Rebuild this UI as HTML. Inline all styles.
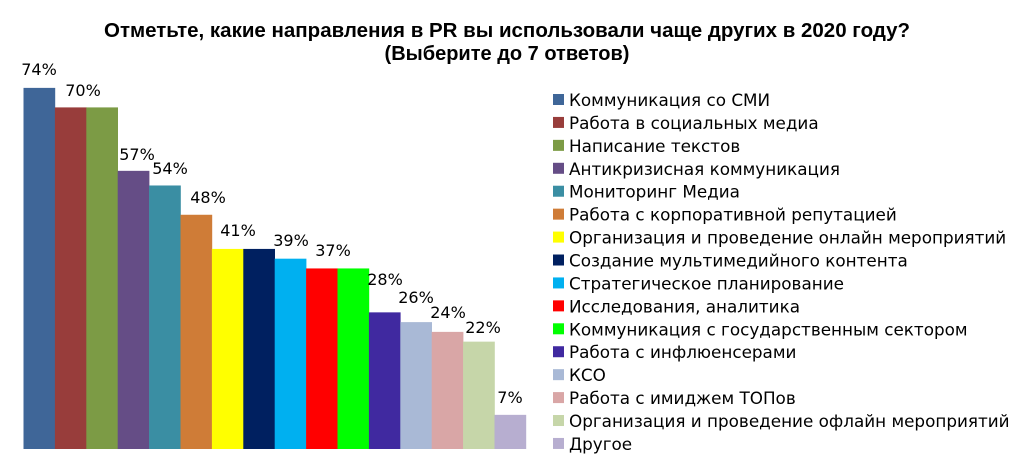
<!DOCTYPE html>
<html><head><meta charset="utf-8"><style>
body{margin:0;background:#fff}
svg{display:block}
</style></head><body>
<svg width="1024" height="471" xmlns="http://www.w3.org/2000/svg">
<rect width="1024" height="471" fill="#fff"/>
<g font-family="Liberation Sans, sans-serif" font-weight="bold" font-size="20" text-anchor="middle" fill="#000">
<text x="507" y="37" textLength="806" lengthAdjust="spacingAndGlyphs">Отметьте, какие направления в PR вы использовали чаще других в 2020 году?</text>
<text x="507" y="60">(Выберите до 7 ответов)</text>
</g>
<g id="bars" font-family="DejaVu Sans, sans-serif" font-size="16" text-anchor="middle" fill="#000"></g>
<g id="leg" font-family="DejaVu Sans, sans-serif" font-size="16.8" fill="#000"></g>
<script>
var d=[[74,"#3f6698","Коммуникация со СМИ"],[70,"#983d3b","Работа в социальных медиа"],[70,"#7c9b45","Написание текстов"],[57,"#654d86","Антикризисная коммуникация"],[54,"#3a8ea3","Мониторинг Медиа"],[48,"#cf7c37","Работа с корпоративной репутацией"],[41,"#ffff00","Организация и проведение онлайн мероприятий"],[41,"#002060","Создание мультимедийного контента"],[39,"#00b0f0","Стратегическое планирование"],[37,"#ff0000","Исследования, аналитика"],[37,"#00ff00","Коммуникация с государственным сектором"],[28,"#4029a0","Работа с инфлюенсерами"],[26,"#a9b9d6","КСО"],[24,"#d9a6a6","Работа с имиджем ТОПов"],[22,"#c6d6a9","Организация и проведение офлайн мероприятий"],[7,"#b7aed0","Другое"]];
var labs=[[74,39,75],[70,83,96],[57,137,160],[54,170,174],[48,208,203],[41,238,236],[39,291,246],[37,333,256],[28,385,285],[26,416,303],[24,448,318],[22,483,333],[7,510,403]];
var NS="http://www.w3.org/2000/svg",b=document.getElementById("bars"),l=document.getElementById("leg");
var base=449,k=4.88,w=31.4,x0=23.5;
function el(p,t,a,txt){var e=document.createElementNS(NS,t);for(var i in a)e.setAttribute(i,a[i]);if(txt)e.textContent=txt;p.appendChild(e);}
d.forEach(function(r,i){var h=r[0]*k,x=x0+w*i;el(b,"rect",{x:x,y:base-h,width:w+0.3,height:h,fill:r[1]});
var y=100+i*22.93;el(l,"rect",{x:553,y:y-6,width:11,height:11,fill:r[1]});el(l,"text",{x:569,y:y+6},r[2]);});
labs.forEach(function(a){el(b,"text",{x:a[1],y:a[2]},a[0]+"%");});
</script>
</svg>
</body></html>
